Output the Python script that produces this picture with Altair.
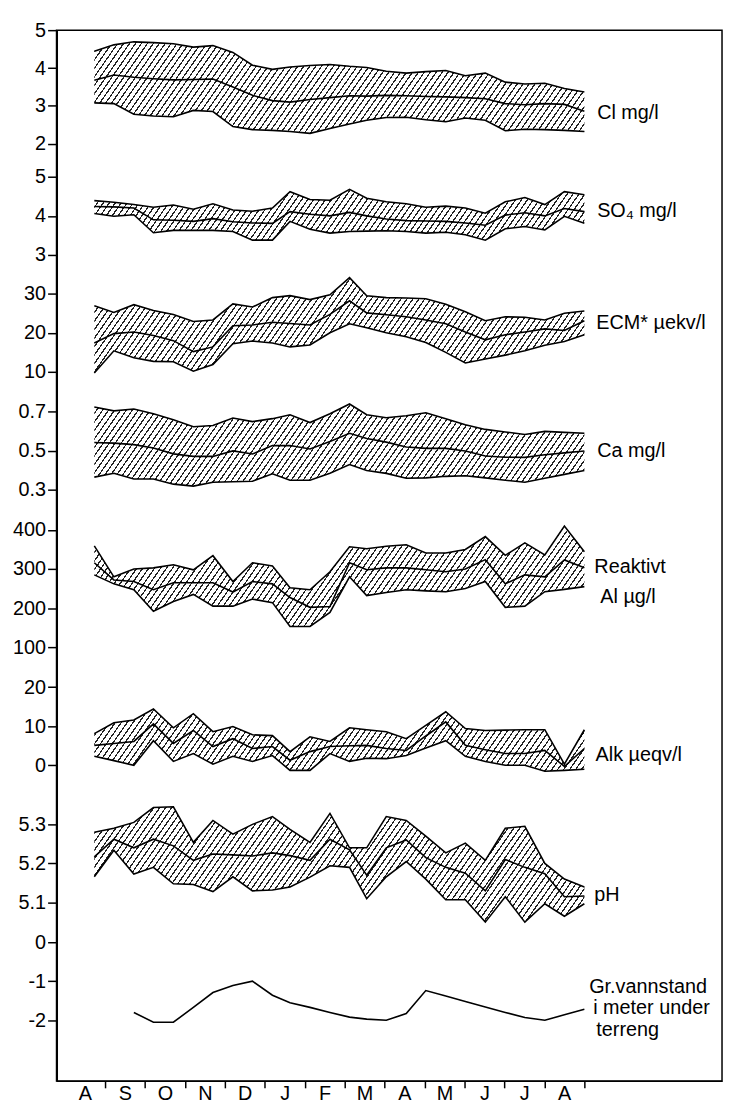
import altair as alt
import numpy as np
import pandas as pd

# ---------------- data ----------------
MONTHS = ["A", "S", "O", "N", "D", "J", "F", "M", "A", "M", "J", "J", "A", ""]
# sampling times, months after 1 August
T = [0.73, 1.22, 1.72, 2.21, 2.71, 3.21, 3.70, 4.20, 4.69, 5.19, 5.63, 6.13, 6.63,
     7.12, 7.55, 8.04, 8.54, 9.03, 9.53, 10.02, 10.52, 11.02, 11.51, 12.01, 12.50, 13.0]

CL_HI = [4.45, 4.62, 4.70, 4.68, 4.65, 4.56, 4.60, 4.42, 4.08, 3.97, 4.03, 4.07, 4.10,
         4.05, 4.02, 3.92, 3.87, 3.91, 3.94, 3.80, 3.87, 3.63, 3.58, 3.60, 3.46, 3.37]
CL_MID = [3.68, 3.82, 3.76, 3.72, 3.69, 3.70, 3.71, 3.50, 3.28, 3.14, 3.10, 3.17, 3.22,
          3.27, 3.26, 3.28, 3.27, 3.25, 3.24, 3.22, 3.19, 3.06, 3.03, 3.06, 3.04, 2.86]
CL_LO = [3.08, 3.06, 2.78, 2.73, 2.71, 2.88, 2.85, 2.45, 2.37, 2.35, 2.32, 2.27, 2.40,
         2.52, 2.62, 2.69, 2.70, 2.63, 2.58, 2.68, 2.62, 2.34, 2.38, 2.37, 2.35, 2.32]

SO4_HI = [4.39, 4.35, 4.29, 4.22, 4.28, 4.17, 4.31, 4.15, 4.12, 4.20, 4.62, 4.42, 4.40,
          4.68, 4.45, 4.36, 4.31, 4.22, 4.25, 4.20, 4.07, 4.36, 4.47, 4.29, 4.62, 4.54]
SO4_MID = [4.24, 4.23, 4.20, 3.90, 3.89, 3.86, 3.93, 3.85, 3.82, 3.81, 4.11, 4.04, 4.00,
           4.09, 4.00, 3.92, 3.88, 3.87, 3.86, 3.82, 3.76, 4.02, 4.08, 4.00, 4.19, 4.11]
SO4_LO = [4.06, 3.99, 4.03, 3.57, 3.63, 3.63, 3.63, 3.60, 3.38, 3.38, 3.86, 3.66, 3.56,
          3.60, 3.61, 3.62, 3.60, 3.56, 3.58, 3.52, 3.38, 3.67, 3.73, 3.64, 3.99, 3.81]

ECM_HI = [26.9, 25.2, 27.2, 25.7, 24.7, 22.9, 23.3, 27.4, 26.6, 29.0, 29.5, 28.5, 29.7,
          34.1, 29.5, 29.0, 28.9, 28.7, 27.3, 25.4, 23.1, 24.1, 24.0, 23.3, 25.0, 25.6]
ECM_MID = [17.4, 19.8, 20.2, 19.3, 18.0, 15.2, 16.4, 21.8, 22.0, 22.7, 22.4, 22.0, 24.7,
           28.2, 25.1, 24.6, 24.1, 23.3, 22.3, 20.2, 18.2, 19.5, 20.2, 21.0, 20.6, 23.1]
ECM_LO = [9.7, 15.4, 13.6, 12.7, 12.6, 10.2, 11.9, 17.2, 17.9, 17.4, 16.4, 16.9, 20.0,
          22.3, 21.3, 20.0, 19.0, 17.5, 15.0, 12.3, 13.3, 14.3, 15.4, 16.8, 17.8, 19.5]

CA_HI = [0.725, 0.705, 0.714, 0.690, 0.660, 0.624, 0.630, 0.668, 0.650, 0.665, 0.685, 0.645, 0.690,
         0.740, 0.685, 0.670, 0.680, 0.695, 0.665, 0.634, 0.610, 0.597, 0.584, 0.600, 0.595, 0.590]
CA_MID = [0.543, 0.540, 0.532, 0.515, 0.485, 0.472, 0.472, 0.500, 0.484, 0.527, 0.528, 0.510, 0.548,
          0.590, 0.563, 0.545, 0.520, 0.513, 0.513, 0.500, 0.474, 0.468, 0.467, 0.480, 0.490, 0.500]
CA_LO = [0.366, 0.386, 0.356, 0.356, 0.330, 0.320, 0.340, 0.342, 0.345, 0.383, 0.350, 0.350, 0.386,
         0.430, 0.400, 0.385, 0.360, 0.362, 0.370, 0.373, 0.362, 0.350, 0.340, 0.360, 0.380, 0.400]

AL_HI = [359, 280, 300, 303, 311, 298, 334, 268, 316, 308, 252, 247, 293,
         357, 352, 358, 362, 341, 341, 350, 383, 335, 367, 336, 410, 344]
AL_MID = [316, 272, 268, 247, 265, 265, 265, 241, 268, 262, 227, 202, 204,
          316, 298, 303, 303, 298, 293, 300, 324, 262, 285, 280, 323, 303]
AL_LO = [285, 262, 247, 192, 217, 235, 205, 205, 223, 214, 153, 153, 189,
         280, 232, 240, 247, 244, 242, 250, 268, 202, 205, 242, 248, 255]

ALK_HI = [8.1, 10.9, 11.6, 14.4, 9.6, 13.2, 8.6, 9.9, 7.8, 7.6, 3.5, 7.3, 6.1,
          9.6, 9.1, 8.6, 6.8, 10.2, 13.7, 9.4, 8.9, 9.0, 9.1, 9.1, 0.3, 9.1]
ALK_MID = [5.1, 5.6, 6.1, 10.6, 5.6, 8.9, 4.8, 6.8, 4.3, 4.8, 1.3, 3.5, 4.8,
           5.0, 5.1, 4.3, 3.8, 7.5, 11.1, 5.1, 4.0, 3.0, 3.0, 3.8, -0.3, 4.3]
ALK_LO = [2.3, 1.2, 0.0, 6.3, 1.0, 3.0, 0.3, 2.3, 1.0, 2.5, -1.3, -1.3, 3.0,
          1.0, 1.8, 1.7, 2.5, 4.4, 6.3, 2.3, 1.0, 0.0, 0.0, -1.5, -1.3, -1.0]

PH_HI = [5.280, 5.290, 5.305, 5.343, 5.345, 5.254, 5.310, 5.275, 5.300, 5.320, 5.287, 5.254, 5.328,
         5.240, 5.240, 5.320, 5.310, 5.270, 5.227, 5.252, 5.208, 5.290, 5.295, 5.200, 5.160, 5.140]
PH_MID = [5.217, 5.262, 5.240, 5.262, 5.245, 5.208, 5.224, 5.222, 5.219, 5.227, 5.220, 5.208, 5.262,
          5.235, 5.170, 5.240, 5.260, 5.215, 5.190, 5.175, 5.130, 5.210, 5.190, 5.174, 5.115, 5.117]
PH_LO = [5.166, 5.234, 5.173, 5.190, 5.148, 5.146, 5.128, 5.166, 5.130, 5.132, 5.140, 5.165, 5.194,
         5.190, 5.110, 5.166, 5.205, 5.160, 5.107, 5.107, 5.050, 5.115, 5.050, 5.097, 5.065, 5.097]

GR_T = T[2:]
GR = [-1.80, -2.05, -2.05, -1.67, -1.29, -1.11, -1.00, -1.36, -1.55, -1.67, -1.80, -1.92,
      -1.97, -2.00, -1.83, -1.24, -1.38, -1.52, -1.66, -1.80, -1.93, -2.00, -1.86, -1.72]

# ---------------- layout of the stacked value axis ----------------
# each panel: value `base` sits at slot position p0, one slot = `unit` of the variable
PANELS = {
    "cl":  dict(base=2.0, unit=1.038, p0=23.97, ticks=[2, 3, 4, 5], labels=["2", "3", "4", "5"]),
    "so4": dict(base=3.0, unit=1.0, p0=21.12, ticks=[3, 4, 5], labels=["3", "4", "5"]),
    "ecm": dict(base=10.0, unit=10.0, p0=18.13, ticks=[10, 20, 30], labels=["10", "20", "30"]),
    "ca":  dict(base=0.3, unit=0.2, p0=15.11, ticks=[0.3, 0.5, 0.7], labels=["0.3", "0.5", "0.7"]),
    "al":  dict(base=100.0, unit=100.0, p0=11.09, ticks=[100, 200, 300, 400], labels=["100", "200", "300", "400"]),
    "alk": dict(base=0.0, unit=10.0, p0=8.07, ticks=[0, 10, 20], labels=["0", "10", "20"]),
    "ph":  dict(base=5.1, unit=0.1, p0=4.56, ticks=[5.1, 5.2, 5.3], labels=["5.1", "5.2", "5.3"]),
    "gr":  dict(base=-2.0, unit=1.0, p0=1.55, ticks=[-2, -1, 0], labels=["-2", "-1", "0"]),
}

# annotation labels: text, panel, anchor value (panel units), x (months)
LABELS = [
    ("Cl mg/l", "cl", 2.82, 13.32),
    ("SO\u2084 mg/l", "so4", 4.13, 13.32),
    ("ECM* \u00b5ekv/l", "ecm", 22.4, 13.30),
    ("Ca mg/l", "ca", 0.498, 13.32),
    ("Reaktivt", "al", 305, 13.25),
    ("Al \u00b5g/l", "al", 229, 13.40),
    ("Alk \u00b5eqv/l", "alk", 2.6, 13.28),
    ("pH", "ph", 5.12, 13.25),
    ("Gr.vannstand", "gr", -1.15, 13.12),
    ("i meter under", "gr", -1.70, 13.22),
    ("terreng", "gr", -2.26, 13.30),
]

FONT = "Liberation Sans"
W, H = 672, 1061
PAD = {"left": 49, "right": 2, "top": 17, "bottom": 21}
YMAX = 26.87
XMIN = -0.216
PXX = 40.33
XMAX = XMIN + W / PXX
PXY = H / YMAX


def to_pos(key, v):
    P = PANELS[key]
    return P["p0"] + (v - P["base"]) / P["unit"]


# y axis ticks / labels
tick_pairs = []
for key, P in PANELS.items():
    for tv, tl in zip(P["ticks"], P["labels"]):
        tick_pairs.append((round(to_pos(key, tv), 4), tl))
tick_pairs.sort()
expr = "'" + tick_pairs[-1][1] + "'"
for i in range(len(tick_pairs) - 2, -1, -1):
    mid = (tick_pairs[i][0] + tick_pairs[i + 1][0]) / 2
    expr = f"datum.value < {mid:.3f} ? '{tick_pairs[i][1]}' : ({expr})"

yscale = alt.Scale(domain=[0, YMAX], nice=False, zero=False)
yaxis = alt.Axis(values=[p for p, _ in tick_pairs], labelExpr=expr, title=None, grid=False,
                 tickSize=9, tickWidth=1.5, domainWidth=2, labelPadding=2)
xscale = alt.Scale(domain=[XMIN, XMAX], nice=False, zero=False)
xaxis = alt.Axis(values=list(range(14)), labelExpr="['" + "','".join(MONTHS) + "'][datum.value]",
                 labelOffset=20, title=None, grid=False, tickSize=7, tickWidth=1.5,
                 labelPadding=12, labelBaseline="alphabetic", domainWidth=1.5,
                 tickOpacity={"condition": {"test": "datum.value == 0", "value": 0}, "value": 1})


def X(field):
    return alt.X(field, type="quantitative", scale=xscale, axis=xaxis)


def Y(field):
    return alt.Y(field, type="quantitative", scale=yscale, axis=yaxis)


def hatch(wpx, hpx, angle=55.0, spacing=6.0, line=1.5):
    k = np.tan(np.radians(angle))
    a = k * wpx / hpx
    b = 1.0
    n2 = a * a + b * b
    p = spacing * a / (wpx * n2)
    tmax = (a + b) / n2
    frac = line / spacing
    stops = []
    o = 0.0
    while o < tmax + p and o < 1.0:
        e = min(o + p * frac, 1.0)
        f = min(o + p, 1.0)
        stops += [alt.GradientStop(offset=round(o, 6), color="#222222"),
                  alt.GradientStop(offset=round(e, 6), color="#222222"),
                  alt.GradientStop(offset=round(e, 6), color="white"),
                  alt.GradientStop(offset=round(f, 6), color="white")]
        o += p
    return alt.LinearGradient(gradient="linear", stops=stops, x1=0, y1=0, x2=float(a), y2=float(b))


def band(key, hi, mid, lo):
    P = PANELS[key]
    df = pd.DataFrame({"t": T, "hi": hi, "mid": mid, "lo": lo})

    def e(f):
        return f"{P['p0']} + (datum.{f} - ({P['base']})) / {P['unit']}"

    base = alt.Chart(df).transform_calculate(hi_pos=e("hi"), mid_pos=e("mid"), lo_pos=e("lo"))
    hp = [to_pos(key, v) for v in hi]
    lp = [to_pos(key, v) for v in lo]
    wpx = (max(T) - min(T)) * PXX
    hpx = (max(hp + lp) - min(hp + lp)) * PXY
    area = base.mark_area(fill=hatch(wpx, hpx), strokeWidth=0).encode(
        x=X("t"), y=Y("hi_pos"), y2=alt.Y2("lo_pos:Q"))
    lines = base.transform_fold(["hi_pos", "mid_pos", "lo_pos"], as_=["s", "v"]).mark_line(
        color="black", strokeWidth=1.6).encode(x=X("t"), y=Y("v"), detail="s:N")
    return [area, lines]


layers = []
layers += band("cl", CL_HI, CL_MID, CL_LO)
layers += band("so4", SO4_HI, SO4_MID, SO4_LO)
layers += band("ecm", ECM_HI, ECM_MID, ECM_LO)
layers += band("ca", CA_HI, CA_MID, CA_LO)
layers += band("al", AL_HI, AL_MID, AL_LO)
layers += band("alk", ALK_HI, ALK_MID, ALK_LO)
layers += band("ph", PH_HI, PH_MID, PH_LO)

gdf = pd.DataFrame({"t": GR_T, "gr": GR})
P = PANELS["gr"]
layers.append(
    alt.Chart(gdf).transform_calculate(pos=f"{P['p0']} + (datum.gr - ({P['base']})) / {P['unit']}")
    .mark_line(color="black", strokeWidth=1.6).encode(x=X("t"), y=Y("pos"))
)

ldf = pd.DataFrame({
    "text": [l[0] for l in LABELS],
    "t": [l[3] for l in LABELS],
    "pos": [to_pos(l[1], l[2]) for l in LABELS],
})
layers.append(
    alt.Chart(ldf).mark_text(align="left", baseline="middle", fontSize=20, font=FONT, color="black")
    .encode(x=X("t"), y=Y("pos"), text="text:N")
)

chart = (
    alt.layer(*layers)
    .properties(width=W, height=H, padding=PAD, autosize=alt.AutoSizeParams(type="none"))
    .configure_view(stroke="black", strokeWidth=1.5)
    .configure_axis(labelFont=FONT, labelFontSize=20, labelColor="black",
                    tickColor="black", domainColor="black")
)

chart.save("out.html", embed_options={"renderer": "svg", "actions": False})
